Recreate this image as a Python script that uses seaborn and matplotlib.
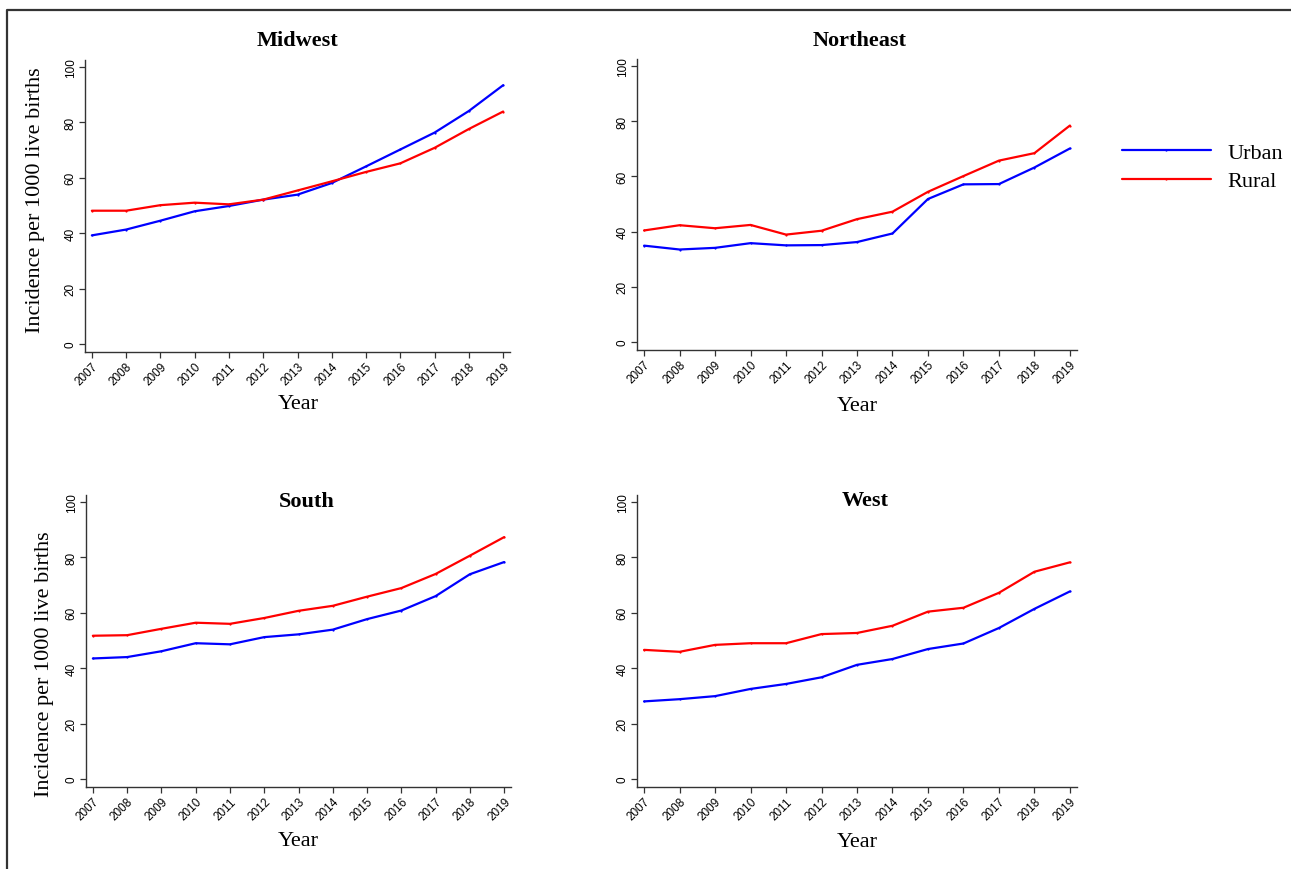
import numpy as np
import pandas as pd
import matplotlib
matplotlib.use("Agg")
import matplotlib.pyplot as plt
from matplotlib.lines import Line2D
import seaborn as sns

years = list(range(2007, 2020))
regions = ["Midwest", "Northeast", "South", "West"]

midwest_urban = [39.2, 41.3, 44.5, 47.9, 49.8, 52.1, 53.9, 58.1, 64.1, 70.2, 76.3, 84.1, 93.4]
midwest_rural = [48.1, 48.1, 50.1, 51.0, 50.4, 52.1, 55.4, 58.7, 62.1, 65.2, 70.8, 77.6, 83.9]
northeast_urban = [34.9, 33.5, 34.1, 35.8, 35.0, 35.1, 36.2, 39.3, 51.8, 57.1, 57.2, 63.2, 70.1]
northeast_rural = [40.4, 42.3, 41.2, 42.4, 38.9, 40.3, 44.5, 47.2, 54.4, 60.1, 65.7, 68.4, 78.4]
south_urban = [43.5, 44.0, 46.1, 49.0, 48.6, 51.2, 52.2, 53.9, 57.7, 60.8, 66.0, 73.9, 78.3]
south_rural = [51.7, 51.9, 54.2, 56.4, 56.0, 58.1, 60.7, 62.5, 65.8, 68.9, 74.0, 80.6, 87.3]
west_urban = [28.0, 28.8, 29.9, 32.5, 34.3, 36.7, 41.2, 43.3, 46.9, 48.9, 54.5, 61.4, 67.7]
west_rural = [46.6, 45.9, 48.4, 49.0, 49.0, 52.3, 52.7, 55.3, 60.4, 61.8, 67.2, 74.8, 78.2]

series = {
    "Midwest": (midwest_urban, midwest_rural),
    "Northeast": (northeast_urban, northeast_rural),
    "South": (south_urban, south_rural),
    "West": (west_urban, west_rural),
}

rows = []
for reg in regions:
    u, r = series[reg]
    for y, v in zip(years, u):
        rows.append((reg, y, "Urban", v))
    for y, v in zip(years, r):
        rows.append((reg, y, "Rural", v))
df = pd.DataFrame(rows, columns=["Region", "Year", "Area", "Incidence"])

sns.set_theme(style="ticks")
plt.rcParams["font.family"] = ["Liberation Sans", "DejaVu Sans"]
plt.rcParams["text.color"] = "black"
plt.rcParams["axes.labelcolor"] = "black"
plt.rcParams["xtick.color"] = "black"
plt.rcParams["ytick.color"] = "black"

W, H = 1291, 870
fig = plt.figure(figsize=(W / 100, H / 100), dpi=100)

def px_axes(l, t, r, b):
    return fig.add_axes([l / W, 1 - b / H, (r - l) / W, (b - t) / H])

boxes = {
    "Midwest": (85, 61, 510, 353),
    "Northeast": (637, 60, 1077, 351),
    "South": (86, 496, 511, 788),
    "West": (637, 496, 1077, 788),
}
title_pos = {"Midwest": (297, 41), "Northeast": (860, 41), "South": (307, 502), "West": (865, 501)}
xlab_pos = {"Midwest": (298, 405), "Northeast": (857, 407), "South": (298, 842), "West": (857, 843)}
ylab_pos = {"Midwest": (36, 200), "South": (45, 664)}

palette = {"Urban": "#0000FF", "Rural": "#FF0000"}
serif = ["Liberation Serif", "DejaVu Serif"]

for reg in regions:
    ax = px_axes(*boxes[reg])
    sub = df[df["Region"] == reg]
    sns.lineplot(data=sub, x="Year", y="Incidence", hue="Area", hue_order=["Urban", "Rural"],
                 palette=palette, linewidth=1.6, marker="o", markersize=1.6,
                 markeredgewidth=0, ax=ax, legend=False)
    ax.set_xlim(2006.8, 2019.2)
    ax.set_ylim(-2.9, 102.5)
    ax.set_xticks(years)
    ax.set_xticklabels([str(y) for y in years], rotation=45, ha="right",
                       rotation_mode="anchor", fontsize=8.5, color="black")
    ax.set_yticks([0, 20, 40, 60, 80, 100])
    ax.set_yticklabels(["0", "20", "40", "60", "80", "100"], rotation=90, va="center",
                       fontsize=8.5, color="black")
    ax.set_xlabel("")
    ax.set_ylabel("")
    sns.despine(ax=ax)
    for s in ("left", "bottom"):
        ax.spines[s].set_color("#333333")
        ax.spines[s].set_linewidth(1.0)
    ax.tick_params(axis="both", length=4, width=0.9, color="#333333", pad=2)
    ax.patch.set_alpha(0)

    tx, ty = title_pos[reg]
    fig.text(tx / W, 1 - ty / H, reg, ha="center", va="center", fontsize=16,
             fontweight="bold", family=serif, color="black")
    xx, xy = xlab_pos[reg]
    fig.text(xx / W, 1 - xy / H, "Year", ha="center", va="center", fontsize=16,
             family=serif, color="black")
    if reg in ylab_pos:
        yx, yy = ylab_pos[reg]
        fig.text(yx / W, 1 - yy / H, "Incidence per 1000 live births", ha="center", va="center",
                 rotation=90, fontsize=16, family=serif, color="black")

handles = [Line2D([0], [0], color=palette["Urban"], lw=1.6, marker="o", ms=1.6, mew=0),
           Line2D([0], [0], color=palette["Rural"], lw=1.6, marker="o", ms=1.6, mew=0)]
leg = fig.legend(handles, ["Urban", "Rural"], loc="center left",
                 bbox_to_anchor=(1122 / W, 1 - 168 / H), frameon=False, borderpad=0,
                 borderaxespad=0, handlelength=4.0, handletextpad=0.75, labelspacing=0.35,
                 prop={"family": serif, "size": 16}, markerscale=1)
for t in leg.get_texts():
    t.set_color("black")

# outer frame lines (top and left)
fig.add_artist(Line2D([7 / W, 7 / W, 1.0], [0.0, 1 - 11 / H, 1 - 11 / H],
                      transform=fig.transFigure, color="#333333", lw=1.6))

fig.savefig("out.png", dpi=100, facecolor="white")
